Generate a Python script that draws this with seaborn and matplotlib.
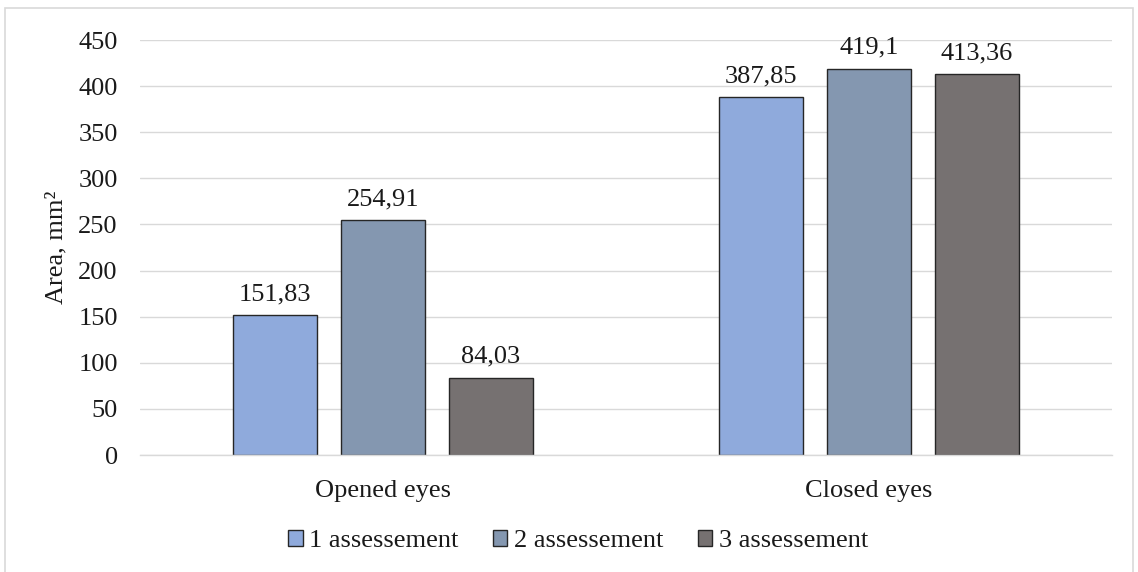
import matplotlib
matplotlib.use("Agg")
import matplotlib.pyplot as plt
import seaborn as sns
import pandas as pd
from matplotlib.patches import Rectangle

conditions = ["Opened eyes", "Closed eyes"]
assessments = ["1 assessement", "2 assessement", "3 assessement"]
area_1 = [151.83, 387.85]
area_2 = [254.91, 419.10]
area_3 = [84.03, 413.36]
value_labels = [["151,83", "387,85"], ["254,91", "419,1"], ["84,03", "413,36"]]
y_ticks = [0, 50, 100, 150, 200, 250, 300, 350, 400, 450]

colors = ["#8FAADC", "#8497B0", "#767171"]

rows = []
for name, vals in zip(assessments, [area_1, area_2, area_3]):
    for cond, v in zip(conditions, vals):
        rows.append({"condition": cond, "assessment": name, "area": v})
df = pd.DataFrame(rows)

sns.set_theme(style="white")
plt.rcParams["font.family"] = ["Liberation Serif", "DejaVu Serif"]

FS = 19
TXT = "#1a1a1a"

fig = plt.figure(figsize=(11.38, 5.72), dpi=100)
ax = fig.add_axes([0.123, 0.2045, 0.854, 0.7255])

sns.barplot(data=df, x="condition", y="area", hue="assessment",
            order=conditions, hue_order=assessments, palette=colors,
            saturation=1, width=0.667, gap=0.222, edgecolor="#262626",
            linewidth=1.0, errorbar=None, ax=ax, legend=True)

ax.set_ylim(0, 450)
ax.set_xlim(-0.5, 1.5)
ax.set_yticks(y_ticks)
ax.set_yticklabels([str(t) for t in y_ticks])
ax.yaxis.grid(True, color="#D9D9D9", linewidth=1.0)
ax.set_axisbelow(True)
for s in ["top", "right", "left"]:
    ax.spines[s].set_visible(False)
ax.spines["bottom"].set_color("#D9D9D9")
ax.spines["bottom"].set_linewidth(1.0)
ax.tick_params(axis="both", length=0, labelsize=FS, colors=TXT)
ax.tick_params(axis="y", pad=16)
ax.tick_params(axis="x", pad=18)
ax.set_xlabel("")
ax.set_ylabel("Area, mm²", fontsize=FS, color=TXT, labelpad=8)

for container, labels in zip(ax.containers, value_labels):
    ax.bar_label(container, labels=labels, padding=7, fontsize=FS, color=TXT)

handles, names = ax.get_legend_handles_labels()
ax.get_legend().remove()
leg = fig.legend(handles, names, loc="center", bbox_to_anchor=(0.508, 1 - 541 / 572),
                 bbox_transform=fig.transFigure, ncol=3, frameon=False,
                 fontsize=FS, handlelength=0.55, handleheight=0.55,
                 handletextpad=0.25, columnspacing=1.3)
for h in leg.legend_handles:
    h.set_edgecolor("#262626")
    h.set_linewidth(1.0)
for t in leg.get_texts():
    t.set_color(TXT)

fig.patches.append(Rectangle((5 / 1138, -0.01), 1128 / 1138, 1 - 8 / 572 + 0.01,
                             transform=fig.transFigure, fill=False,
                             edgecolor="#D9D9D9", linewidth=1.2))

fig.savefig("out.png", dpi=100)
